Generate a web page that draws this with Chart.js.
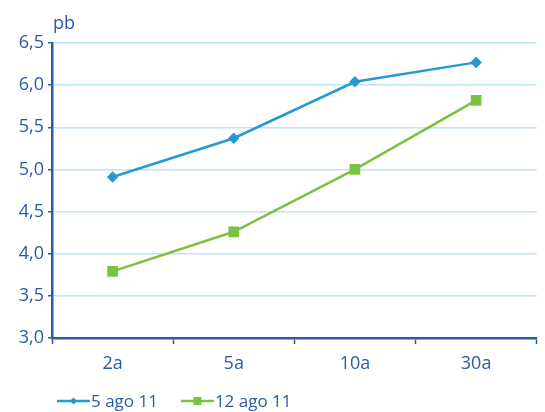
<!DOCTYPE html>
<html>
<head>
<meta charset="utf-8">
<script src="https://cdn.jsdelivr.net/npm/chart.js@4/dist/chart.umd.min.js"></script>
<style>
  html, body { margin: 0; padding: 0; background: #ffffff; }
  #wrap { width: 545px; height: 412px; }
</style>
</head>
<body>
<div id="wrap"><canvas id="c" width="545" height="412"></canvas></div>
<script>
// Plazos de la curva
const categories = ['2a', '5a', '10a', '30a'];
// Series (pb)
const serie5ago = [4.91, 5.37, 6.04, 6.27];
const serie12ago = [3.79, 4.26, 5.00, 5.82];
const seriesNames = ['5 ago 11', '12 ago 11'];
// Eje vertical
const yMin = 3.0, yMax = 6.5, yStep = 0.5;
const unitLabel = 'pb';

const AXIS = '#2b5ba8';
const GRID = '#bde3f5';
const BLUE = '#2599d6';
const GREEN = '#7cc142';
const FONT = '"Open Sans", sans-serif';
const WEIGHT = 500;

// Unidad encima del eje vertical
const unitPlugin = {
  id: 'unitLabel',
  afterDraw(chart) {
    const ctx = chart.ctx;
    ctx.save();
    ctx.font = WEIGHT + ' 18px ' + FONT;
    ctx.fillStyle = AXIS;
    ctx.textAlign = 'left';
    ctx.textBaseline = 'alphabetic';
    ctx.fillText(unitLabel, chart.chartArea.left + 1, 29);
    ctx.restore();
  }
};

// Leyenda inferior: línea con marcador seguida del nombre de la serie
const lineLegend = {
  id: 'lineLegend',
  afterDraw(chart) {
    const ctx = chart.ctx;
    const y = 401;
    let x = 57;
    ctx.save();
    ctx.font = WEIGHT + ' 17px ' + FONT;
    ctx.textBaseline = 'middle';
    ctx.textAlign = 'left';
    chart.data.datasets.forEach(ds => {
      const color = ds.borderColor;
      ctx.strokeStyle = color;
      ctx.lineWidth = 2.5;
      ctx.beginPath(); ctx.moveTo(x, y); ctx.lineTo(x + 33, y); ctx.stroke();
      ctx.fillStyle = color;
      const cx = x + 16.5;
      if (ds.pointStyle === 'rect') {
        ctx.fillRect(cx - 4, y - 4, 8, 8);
      } else {
        ctx.beginPath();
        ctx.moveTo(cx, y - 3.5); ctx.lineTo(cx + 3.5, y); ctx.lineTo(cx, y + 3.5); ctx.lineTo(cx - 3.5, y);
        ctx.closePath(); ctx.fill();
      }
      ctx.fillStyle = AXIS;
      ctx.fillText(ds.label, x + 34, y + 1);
      x += 34 + ctx.measureText(ds.label).width + 23;
    });
    ctx.restore();
  }
};

new Chart(document.getElementById('c'), {
  type: 'line',
  data: {
    labels: categories,
    datasets: [
      {
        label: seriesNames[0],
        data: serie5ago,
        borderColor: BLUE,
        backgroundColor: BLUE,
        borderWidth: 2.5,
        pointStyle: 'rectRot',
        pointRadius: 4,
        pointHoverRadius: 4,
        tension: 0
      },
      {
        label: seriesNames[1],
        data: serie12ago,
        borderColor: GREEN,
        backgroundColor: GREEN,
        borderWidth: 2.5,
        pointStyle: 'rect',
        pointRadius: 5.8,
        pointHoverRadius: 5.8,
        tension: 0
      }
    ]
  },
  options: {
    responsive: false,
    animation: false,
    events: [],
    layout: { padding: { left: 0, right: 8, top: 43, bottom: 23 } },
    plugins: {
      tooltip: { enabled: false },
      legend: { display: false }
    },
    scales: {
      x: {
        type: 'category',
        offset: true,
        afterFit(scale) { scale.height = 51; },
        border: { display: true, color: AXIS, width: 2.5 },
        grid: {
          offset: true,
          drawOnChartArea: false,
          drawTicks: true,
          tickLength: 6,
          tickColor: AXIS,
          tickWidth: 1.5,
          color: AXIS
        },
        ticks: {
          color: AXIS,
          padding: 9,
          font: { family: FONT, size: 18, weight: WEIGHT }
        }
      },
      y: {
        min: yMin,
        max: yMax,
        afterFit(scale) { scale.width = 52; },
        border: { display: true, color: AXIS, width: 2.5 },
        grid: {
          color: GRID,
          lineWidth: 1.5,
          drawTicks: true,
          tickLength: 4,
          tickColor: AXIS,
          tickWidth: 1.5
        },
        ticks: {
          stepSize: yStep,
          color: AXIS,
          padding: 4,
          font: { family: FONT, size: 18, weight: WEIGHT },
          callback: v => Number(v).toFixed(1).replace('.', ',')
        }
      }
    }
  },
  plugins: [unitPlugin, lineLegend]
});
</script>
</body>
</html>
